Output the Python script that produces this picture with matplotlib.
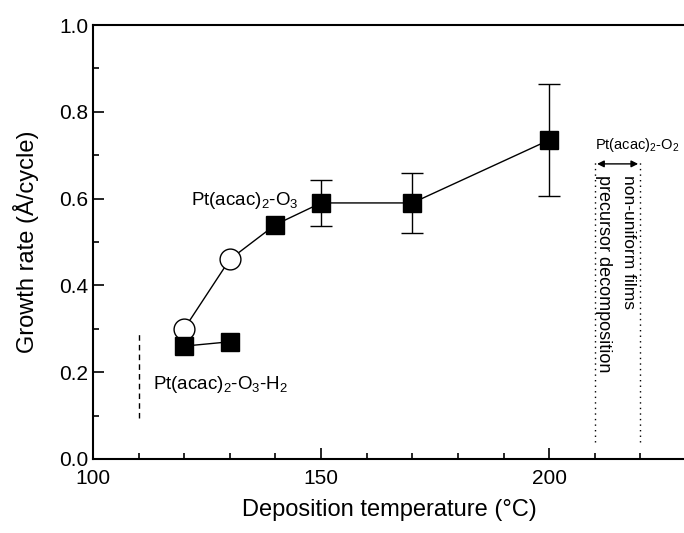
import matplotlib
matplotlib.use('Agg')
import matplotlib.pyplot as plt
from matplotlib.ticker import MultipleLocator

plt.rcParams['font.family'] = ['Liberation Sans', 'DejaVu Sans']
plt.rcParams['mathtext.fontset'] = 'custom'
plt.rcParams['mathtext.rm'] = 'Liberation Sans'

# Pt(acac)2-O3 process: open circles at low T, filled squares above
o3_temp = [120, 130, 140, 150, 170, 200]
o3_rate = [0.30, 0.46, 0.54, 0.59, 0.59, 0.735]
o3_open_temp = [120, 130]
o3_open_rate = [0.30, 0.46]
o3_fill_temp = [140, 150, 170, 200]
o3_fill_rate = [0.54, 0.59, 0.59, 0.735]
o3_err_temp = [150, 170, 200]
o3_err_rate = [0.59, 0.59, 0.735]
o3_err = [0.053, 0.069, 0.13]

# Pt(acac)2-O3-H2 process
h2_temp = [120, 130]
h2_rate = [0.26, 0.27]

fig = plt.figure(figsize=(6.84, 5.33), dpi=100)
ax = fig.add_axes([0.136, 0.139, 0.867, 0.814])

ax.plot(o3_temp, o3_rate, color='black', lw=1, zorder=2)
ax.plot(h2_temp, h2_rate, color='black', lw=1, zorder=2)
ax.errorbar(o3_err_temp, o3_err_rate, yerr=o3_err, fmt='none', ecolor='black',
            elinewidth=1, capsize=8, capthick=1, zorder=1)
ax.plot(o3_fill_temp, o3_fill_rate, 's', color='black', ms=13, zorder=3)
ax.plot(o3_open_temp, o3_open_rate, 'o', mfc='white', mec='black', mew=1, ms=15, zorder=3)
ax.plot(h2_temp, h2_rate, 's', color='black', ms=13, zorder=4)

# guide lines
ax.plot([110, 110], [0.095, 0.29], color='black', lw=1, ls=(0, (4, 3)))
ax.plot([210, 210], [0.04, 0.685], color='black', lw=1, ls=(0, (1, 3)))
ax.plot([220, 220], [0.04, 0.685], color='black', lw=1, ls=(0, (1, 3)))
ax.annotate('', xy=(210.5, 0.68), xytext=(219.5, 0.68),
            arrowprops=dict(arrowstyle='<|-|>', color='black', lw=1,
                            shrinkA=0, shrinkB=0, mutation_scale=10))

ax.text(121.5, 0.585, r'Pt(acac)$_2$-O$_3$', fontsize=13.5, va='baseline')
ax.text(113.2, 0.16, r'Pt(acac)$_2$-O$_3$-H$_2$', fontsize=13.5, va='baseline')
ax.text(210.1, 0.715, r'Pt(acac)$_2$-O$_2$', fontsize=10.5, va='baseline')
ax.text(217.4, 0.655, 'non-uniform films', rotation=270, fontsize=12.5,
        ha='center', va='top')
ax.text(211.9, 0.655, 'precursor decomposition', rotation=270, fontsize=13,
        ha='center', va='top')

ax.set_xlim(100, 230)
ax.set_ylim(0, 1.0)
ax.xaxis.set_major_locator(MultipleLocator(50))
ax.xaxis.set_minor_locator(MultipleLocator(10))
ax.yaxis.set_major_locator(MultipleLocator(0.2))
ax.yaxis.set_minor_locator(MultipleLocator(0.1))
ax.yaxis.set_major_formatter(matplotlib.ticker.FormatStrFormatter('%.1f'))
ax.tick_params(which='both', direction='in', labelsize=15, width=1.2)
ax.tick_params(which='major', length=8)
ax.tick_params(which='minor', length=4)
ax.tick_params(axis='x', pad=7)
for s in ['left', 'bottom', 'top']:
    ax.spines[s].set_linewidth(1.5)
ax.spines['right'].set_visible(False)

ax.set_xlabel('Deposition temperature (°C)', fontsize=17, labelpad=8)
ax.set_ylabel('Growth rate (Å/cycle)', fontsize=17, labelpad=14)

fig.savefig('out.png', dpi=100)
